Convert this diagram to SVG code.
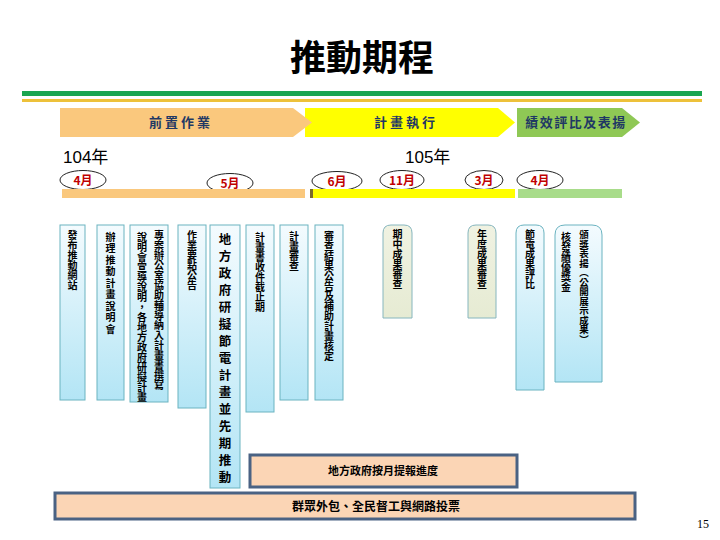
<svg xmlns="http://www.w3.org/2000/svg" width="720" height="540" viewBox="0 0 720 540">
<style>
.cjk{font-family:"Noto Sans CJK TC","Noto Sans CJK SC",sans-serif;font-weight:bold}
.ban{font-size:13px;fill:#1F3864;text-anchor:middle;letter-spacing:3px}
.yr{font-family:"Liberation Sans","Noto Sans CJK TC",sans-serif;font-size:17px;fill:#000}
.mo{font-size:12px;fill:#C00000;text-anchor:middle}
.ov{fill:#fff;stroke:#222;stroke-width:1}
.col{fill:url(#blue);stroke:#6BB3C0;stroke-width:1}
.colg{fill:url(#olive);stroke:#86B6BE;stroke-width:1}
.vt{font-size:10px;fill:#000;writing-mode:vertical-rl}
.pe{fill:#FBD5B5;stroke:#4A6283;stroke-width:3}
</style>
<defs>
<linearGradient id="blue" x1="0" y1="0" x2="0" y2="1">
<stop offset="0" stop-color="#F4FBFE"/><stop offset="1" stop-color="#B3E5F5"/>
</linearGradient>
<linearGradient id="olive" x1="0" y1="0" x2="0" y2="1">
<stop offset="0" stop-color="#F0F2E2"/><stop offset="1" stop-color="#E6EBD3"/>
</linearGradient>
</defs>
<rect width="720" height="540" fill="#fff"/>
<g id="title">
<text x="362" y="71" class="cjk" font-size="36" text-anchor="middle" fill="#000">推動期程</text>
<rect x="22" y="91" width="680" height="5" fill="#1AA550"/>
<rect x="22" y="99" width="680" height="3" fill="#EDC13A"/>
</g>
<g id="phases">
<g id="phase-exec"><polygon points="305,108 498,108 515,122.5 498,137 305,137" fill="#FFFF00"/>
<text x="406" y="127" class="cjk ban">計畫執行</text></g>
<g id="phase-prep"><polygon points="60,108 293,108 312,122.5 293,137 60,137" fill="#FAC87D"/>
<text x="181" y="127" class="cjk ban">前置作業</text></g>
<g id="phase-eval"><polygon points="517,108 622,108 640,122.5 622,137 517,137" fill="#8FC855"/>
<text x="576" y="127" class="cjk ban" style="letter-spacing:1.5px">績效評比及表揚</text></g>
</g>
<g id="years">
<text x="63" y="163" class="yr">104年</text>
<text x="405" y="163" class="yr">105年</text>
</g>
<g id="months">
<ellipse cx="83" cy="180" rx="23" ry="9.5" class="ov"/><text x="83" y="185" class="cjk mo">4月</text>
<ellipse cx="230" cy="183" rx="23" ry="9.5" class="ov"/><text x="230" y="188" class="cjk mo">5月</text>
<ellipse cx="337" cy="181" rx="25" ry="9.5" class="ov"/><text x="337" y="186" class="cjk mo">6月</text>
<ellipse cx="402" cy="180" rx="22" ry="9.5" class="ov"/><text x="402" y="185" class="cjk mo">11月</text>
<ellipse cx="484" cy="180" rx="19" ry="9.5" class="ov"/><text x="484" y="185" class="cjk mo">3月</text>
<ellipse cx="540" cy="180" rx="23" ry="9.5" class="ov"/><text x="540" y="185" class="cjk mo">4月</text>
</g>
<g id="strips">
<rect x="62" y="189" width="243" height="9" fill="#FAC87D"/>
<rect x="312" y="189" width="203" height="9" fill="#FFFF00"/>
<rect x="310" y="189" width="3" height="9" fill="#7A6A2A"/>
<rect x="518" y="189" width="104" height="9" fill="#A8DC8A"/>
</g>
<g id="col1"><rect x="60" y="225" width="25" height="175" class="col"/><text x="72.5" y="230" class="cjk vt">發布推動網站</text></g>
<g id="col2"><rect x="97" y="225" width="27" height="175" class="col"/><text x="110.5" y="232" class="cjk vt" style="letter-spacing:1.5px">辦理推動計畫說明會</text></g>
<g id="col3"><rect x="130" y="225" width="38" height="177" class="col"/>
<text x="159" y="230" class="cjk vt">專案辦公室協助輔導納入計畫書撰寫</text>
<text x="142" y="232" class="cjk vt">說明會宣導說明，各地方政府研擬計畫</text></g>
<g id="col4"><rect x="178" y="225" width="28" height="183" class="col"/><text x="192" y="230" class="cjk vt">作業要點公告</text></g>
<g id="col5"><rect x="210" y="225" width="30" height="263" class="col"/><text x="225" y="233" class="cjk vt" style="font-size:12.5px;letter-spacing:4.5px">地方政府研擬節電計畫並先期推動</text></g>
<g id="col6"><rect x="246" y="225" width="28" height="187" class="col"/><text x="260" y="232" class="cjk vt">計畫書收件截止期</text></g>
<g id="col7"><rect x="280" y="225" width="28" height="175" class="col"/><text x="294" y="231" class="cjk vt">計畫審查</text></g>
<g id="col8"><rect x="315" y="225" width="28" height="175" class="col"/><text x="329" y="231" class="cjk vt">審查結果公告及補助計畫核定</text></g>
<g id="col9"><path d="M383,318 V233 Q383,225 391,225 H404 Q412,225 412,233 V318 Z" class="colg"/><text x="397.5" y="229" class="cjk vt">期中成果審查</text></g>
<g id="col10"><path d="M468,318 V233 Q468,225 476,225 H488 Q496,225 496,233 V318 Z" class="colg"/><text x="482" y="229" class="cjk vt">年度成果審查</text></g>
<g id="col11"><path d="M516,390 V233 Q516,225 524,225 H536 Q544,225 544,233 V390 Z" class="col"/><text x="530" y="229" class="cjk vt">節電成果評比</text></g>
<g id="col12"><path d="M555,382 V235 Q555,225 565,225 H592 Q602,225 602,235 V382 Z" class="col"/>
<text x="584" y="230" class="cjk vt" style="font-size:9.5px">頒獎表揚（公開展示成果）</text>
<text x="566" y="232" class="cjk vt">核發績優獎金</text></g>
<g id="monthly"><rect x="250" y="455" width="267" height="32" class="pe"/><text x="383" y="475" class="cjk" font-size="11" text-anchor="middle" fill="#000">地方政府按月提報進度</text></g>
<g id="crowd"><rect x="55" y="493" width="580" height="26" class="pe"/><text x="376" y="511" class="cjk" font-size="12" text-anchor="middle" fill="#000">群眾外包、全民督工與網路投票</text></g>
<g id="connectors"></g>
<text x="703" y="528" font-family="Liberation Serif,serif" font-size="12" text-anchor="middle" fill="#000">15</text>
</svg>
